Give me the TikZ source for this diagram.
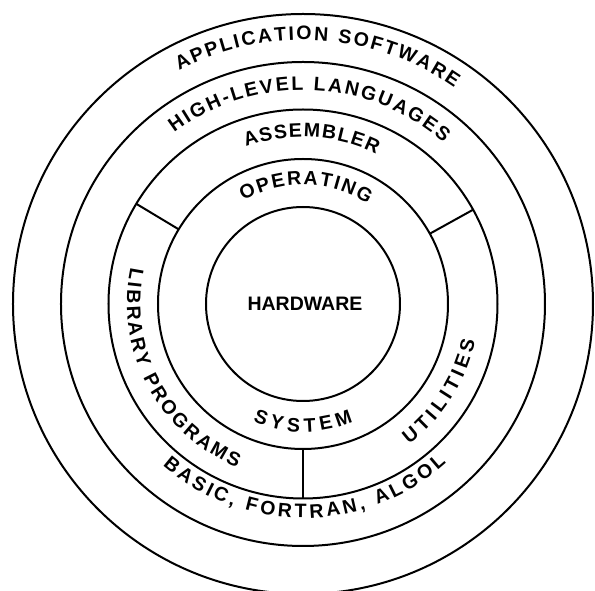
\documentclass[tikz,border=0pt]{standalone}
\usepackage{fontspec}
\setmainfont{Liberation Sans}
\usetikzlibrary{decorations.text}

\newcommand{\ringfont}{\bfseries\fontsize{19.5}{24}\selectfont}
\tikzset{
  ring/.style={draw, circle, line width=2pt, inner sep=0pt, outer sep=0pt},
  divider/.style={line width=2pt},
  arclabel/.style={decorate, decoration={text along path, text align={fit to path}, text={|\ringfont|#1}}}
}

\begin{document}
\begin{tikzpicture}[x=1pt, y=1pt]
  \useasboundingbox (-303,-287) rectangle (292,304);
  \clip (-303,-287) rectangle (292,304);
  % rings, from the inside out
  \foreach \name/\r in {hardware/97, opsys/145, libs/194.5, langs/242, apps/290} {
    \node[ring, minimum size=2*\r*1pt] (\name) at (0,0) {};
  }
  \node[font=\ringfont] (hwlabel) at (2,0) {HARDWARE};
  % dividers between library programs, assembler and utilities
  \draw[divider] (opsys.149) -- (libs.149);
  \draw[divider] (opsys.29) -- (libs.29);
  \draw[divider] (opsys.-90) -- (libs.-90);
  % labels on top, read clockwise
  \path[arclabel={APPLICATION SOFTWARE}] (118:264pt) arc[start angle=118, end angle=55, radius=264pt];
  \path[arclabel={HIGH-LEVEL LANGUAGES}] (127:214pt) arc[start angle=127, end angle=49, radius=214pt];
  \path[arclabel={ASSEMBLER}] (110:167pt) arc[start angle=110, end angle=64, radius=167pt];
  \path[arclabel={OPERATING}] (120:119pt) arc[start angle=120, end angle=57, radius=119pt];
  % labels underneath, read counterclockwise
  \path[arclabel={LIBRARY PROGRAMS}] (168:176pt) arc[start angle=168, end angle=248, radius=176pt];
  \path[arclabel={UTILITIES}] (-53:176pt) arc[start angle=-53, end angle=-12, radius=176pt];
  \path[arclabel={SYSTEM}] (247:128pt) arc[start angle=247, end angle=293, radius=128pt];
  \path[arclabel={BASIC, FORTRAN, ALGOL}] (229:214pt) arc[start angle=229, end angle=312, radius=214pt];
\end{tikzpicture}
\end{document}
